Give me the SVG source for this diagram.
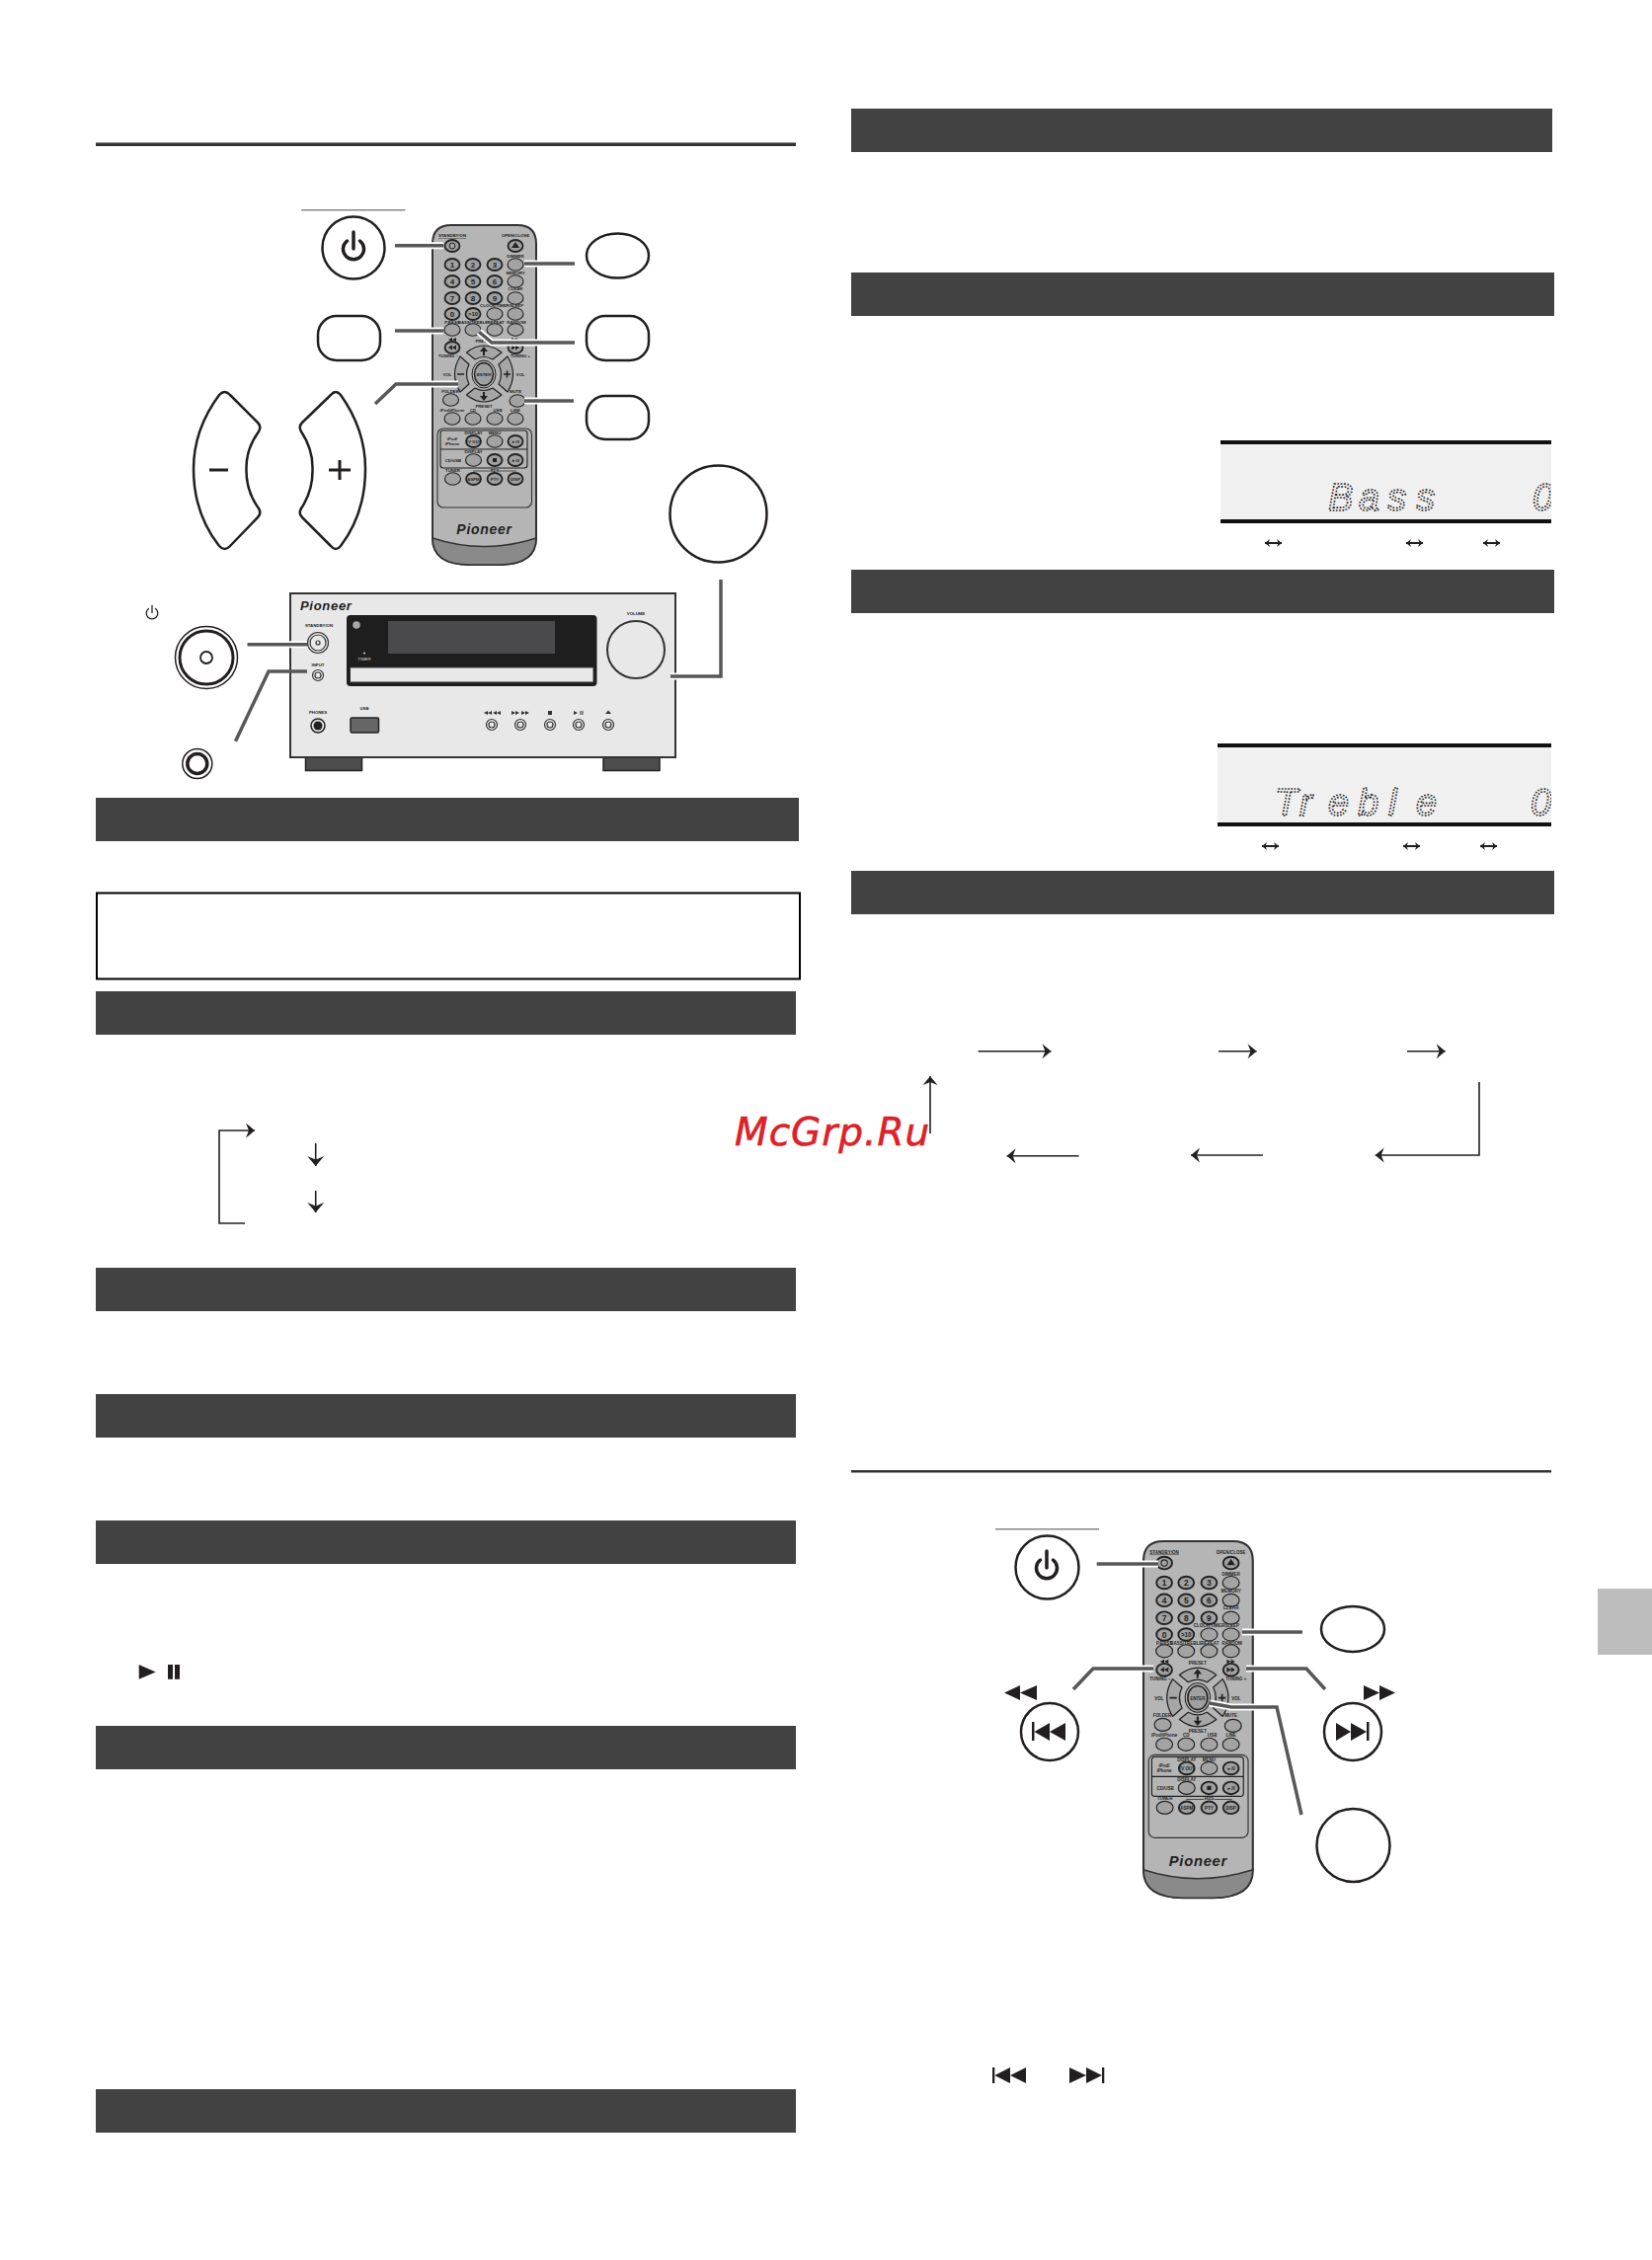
<svg xmlns="http://www.w3.org/2000/svg" xmlns:xlink="http://www.w3.org/1999/xlink" width="1673" height="2289" viewBox="0 0 1673 2289">
<style>
text{font-family:"Liberation Sans",Arial,sans-serif}
.bar{fill:#424242}
.l{font-size:4.3px;font-weight:700;fill:#222;text-anchor:middle}
.n{font-size:8px;font-weight:700;fill:#222;text-anchor:middle}
.b{fill:#a3a3a3;stroke:#222;stroke-width:1.1}
.bi{fill:#a0a0a0;stroke:#222;stroke-width:1.8}
.pad{fill:#a6a6a6;stroke:#222;stroke-width:1.2;stroke-linejoin:round}
.logo{font-weight:700;font-style:italic;fill:#222}
.call{fill:#fff;stroke:#231f20;stroke-width:2.5}
.shape{fill:#fff;stroke:#231f20;stroke-width:2.5;stroke-linejoin:round}
.icon{fill:none;stroke:#231f20;stroke-width:3.5;stroke-linecap:round}
.halo{fill:none;stroke:#fff;stroke-width:7;stroke-linejoin:miter}
.lead{fill:none;stroke:#58585a;stroke-width:3.5;stroke-linejoin:miter}
.arr{fill:none;stroke:#231f20;stroke-width:1.6;marker-end:url(#barb)}
.dn{fill:none;stroke:#231f20;stroke-width:1.6;marker-end:url(#barb2)}
.dbl{fill:none;stroke:#231f20;stroke-width:2;marker-end:url(#tip);marker-start:url(#tip)}
.tri{fill:#231f20}
.band{fill:#111}
.lcd{font-style:italic;font-size:38px;fill:none;stroke:#222;stroke-width:1.6;stroke-dasharray:1.6 1.6}
.ub{fill:#e8e8e8;stroke:#333;stroke-width:1.2}
.ui{fill:#777;stroke:#333;stroke-width:1.2}
</style>
<defs>
<marker id="barb" markerUnits="userSpaceOnUse" markerWidth="24" markerHeight="24" refX="12" refY="12" orient="auto" viewBox="0 0 24 24"><path d="M3,4.500 L12,12 L3,19.500 L6,12 Z" fill="#231f20"/></marker>
<marker id="barb2" markerUnits="userSpaceOnUse" markerWidth="24" markerHeight="24" refX="12" refY="12" orient="auto" viewBox="0 0 24 24"><path d="M2,3.500 L12,12 L2,20.500 L5.500,12 Z" fill="#231f20"/></marker>
<marker id="tip" markerUnits="userSpaceOnUse" markerWidth="12" markerHeight="12" refX="6" refY="6" orient="auto-start-reverse" viewBox="0 0 12 12"><path d="M1,2 L6,6 L1,10 L2.500,6 Z" fill="#231f20"/></marker>
<ellipse id="b" class="b" rx="8" ry="6.200"/>
<ellipse id="bi" class="bi" rx="7.500" ry="6"/>
<g id="remote">
<path d="M457,228 H524 Q543,228 543,247 V545 Q543,572 505,572 H476 Q438,572 438,545 V247 Q438,228 457,228 Z" fill="#b5b5b5" stroke="#333" stroke-width="2"/>
<path d="M438,545 Q490,562 543,545 Q543,572 505,572 H476 Q438,572 438,545 Z" fill="#8a8a8a" stroke="#333" stroke-width="1.500"/>
<text class="l" x="458" y="240" text-decoration="underline">STANDBY/ON</text>
<text class="l" x="522" y="240">OPEN/CLOSE</text>
<use xlink:href="#bi" href="#bi" x="458" y="249"/><circle cx="458" cy="249" r="3" fill="none" stroke="#222"/>
<use xlink:href="#bi" href="#bi" x="522" y="249"/><polygon points="518,251 522,245 526,251" fill="#222"/>
<text class="l" x="522" y="261">DIMMER</text><use xlink:href="#b" href="#b" x="522" y="268"/>
<use xlink:href="#bi" href="#bi" x="458" y="268"/><use xlink:href="#bi" href="#bi" x="479" y="268"/><use xlink:href="#bi" href="#bi" x="501" y="268"/>
<text class="n" x="458" y="271">1</text><text class="n" x="479" y="271">2</text><text class="n" x="501" y="271">3</text>
<text class="l" x="522" y="278">MEMORY</text><use xlink:href="#b" href="#b" x="522" y="285"/>
<use xlink:href="#bi" href="#bi" x="458" y="285"/><use xlink:href="#bi" href="#bi" x="479" y="285"/><use xlink:href="#bi" href="#bi" x="501" y="285"/>
<text class="n" x="458" y="288">4</text><text class="n" x="479" y="288">5</text><text class="n" x="501" y="288">6</text>
<text class="l" x="522" y="294">CLEAR</text><use xlink:href="#b" href="#b" x="522" y="302"/>
<use xlink:href="#bi" href="#bi" x="458" y="302"/><use xlink:href="#bi" href="#bi" x="479" y="302"/><use xlink:href="#bi" href="#bi" x="501" y="302"/>
<text class="n" x="458" y="305">7</text><text class="n" x="479" y="305">8</text><text class="n" x="501" y="305">9</text>
<text class="l" x="501" y="311">CLOCK/TIMER</text><text class="l" x="523" y="311">SLEEP</text>
<use xlink:href="#bi" href="#bi" x="458" y="318"/><use xlink:href="#bi" href="#bi" x="479" y="318"/><use xlink:href="#b" href="#b" x="501" y="318"/><use xlink:href="#b" href="#b" x="522" y="318"/>
<text class="n" x="458" y="321">0</text><text class="l" x="479" y="320" style="font-size:6px">&gt;10</text>
<text class="l" x="458" y="328">P.BASS</text><text class="l" x="479" y="328">BASS/TREBLE</text><text class="l" x="502" y="328">REPEAT</text><text class="l" x="523" y="328">RANDOM</text>
<use xlink:href="#b" href="#b" x="458" y="334"/><use xlink:href="#b" href="#b" x="479" y="334"/><use xlink:href="#b" href="#b" x="501" y="334"/><use xlink:href="#b" href="#b" x="522" y="334"/>
<use xlink:href="#bi" href="#bi" x="458" y="352"/><use xlink:href="#bi" href="#bi" x="522" y="352"/>
<path d="M454,352 L458,349.500 V354.500 Z M458,352 L462,349.500 V354.500 Z M518,349.500 V354.500 L522,352 Z M522,349.500 V354.500 L526,352 Z" fill="#222"/>
<path d="M454,344 L458,342 V346 Z M458,344 L462,342 V346 Z M518,342 V346 L522,344 Z M522,342 V346 L526,344 Z" fill="#222"/>
<text class="l" x="490" y="347">PRESET</text>
<text class="l" x="454" y="362">TUNING –</text><text class="l" x="527" y="362">TUNING +</text>
<path class="pad" d="M472.500,357 Q490,343 508,357 L499,364 Q490,359 481,364 Z"/>
<path class="pad" d="M472.500,400 Q490,414 508,400 L499,393 Q490,398 481,393 Z"/>
<path class="pad" d="M466,361 Q455,379 466,397 L475,389 Q470,379 475,369 Z"/>
<path class="pad" d="M514,361 Q525,379 514,397 L505,389 Q510,379 505,369 Z"/>
<path d="M490,351 L486,356 H489 V360 H491 V356 H494 Z M490,406 L486,401 H489 V397 H491 V401 H494 Z" fill="#222"/>
<path d="M463,379 H470 M510,379 H517 M513.500,375.500 V382.500" stroke="#222" stroke-width="1.600" fill="none"/>
<ellipse cx="490" cy="379" rx="12" ry="14" fill="#b5b5b5" stroke="#222" stroke-width="1"/>
<ellipse cx="490" cy="379" rx="9.500" ry="11.500" fill="#a0a0a0" stroke="#222" stroke-width="1.500"/>
<text class="l" x="490" y="381">ENTER</text>
<text class="l" x="453" y="381">VOL</text><text class="l" x="527" y="381">VOL</text>
<text class="l" x="456" y="398">FOLDER</text><text class="l" x="522" y="398">MUTE</text>
<use xlink:href="#b" href="#b" x="456.500" y="405"/><use xlink:href="#b" href="#b" x="524" y="406"/>
<text class="l" x="490" y="413">PRESET</text>
<text class="l" x="458" y="417">iPod/iPhone</text><text class="l" x="479" y="417">CD</text><text class="l" x="504" y="417">USB</text><text class="l" x="522" y="417">LINE</text>
<use xlink:href="#b" href="#b" x="458" y="424"/><use xlink:href="#b" href="#b" x="479" y="424"/><use xlink:href="#b" href="#b" x="501" y="424"/><use xlink:href="#b" href="#b" x="522" y="424"/>
<rect x="443" y="434" width="95.500" height="80" rx="6" fill="#b5b5b5" stroke="#333" stroke-width="1.100"/>
<rect x="446" y="436" width="88" height="38" rx="3" fill="none" stroke="#222" stroke-width="1.100"/>
<path d="M446,455 H534" stroke="#222" stroke-width="1.100"/>
<text class="l" x="479.500" y="440">DISPLAY</text><text class="l" x="501" y="440">MENU</text>
<text class="l" x="458" y="446">iPod/</text><text class="l" x="458" y="451">iPhone</text>
<use xlink:href="#bi" href="#bi" x="479.500" y="447"/><use xlink:href="#b" href="#b" x="501" y="447"/><use xlink:href="#bi" href="#bi" x="522" y="447"/>
<text class="l" x="479.500" y="449">TV OUT</text><text class="l" x="522" y="449">►/II</text>
<text class="l" x="479.500" y="459">DISPLAY</text>
<text class="l" x="459" y="468">CD/USB</text>
<use xlink:href="#b" href="#b" x="479.500" y="466"/><use xlink:href="#bi" href="#bi" x="501" y="466"/><use xlink:href="#bi" href="#bi" x="522" y="466"/>
<rect x="499" y="464" width="4" height="4" fill="#222"/><text class="l" x="522" y="468">►/II</text>
<text class="l" x="458.500" y="478">TUNER</text><text class="l" x="501" y="478">RDS</text>
<path d="M479,477 H496 M506,477 H523" stroke="#222" stroke-width=".7"/>
<use xlink:href="#b" href="#b" x="458.500" y="485"/><use xlink:href="#bi" href="#bi" x="479.500" y="485"/><use xlink:href="#bi" href="#bi" x="501" y="485"/><use xlink:href="#bi" href="#bi" x="522" y="485"/>
<text class="l" x="479.500" y="487">ASPM</text><text class="l" x="501" y="487">PTY</text><text class="l" x="522" y="487">DISP</text>
<text class="logo" x="490.500" y="541" text-anchor="middle" style="font-size:14px;letter-spacing:.7px">Pioneer</text>
</g>
<g id="pw"><path d="M-6.500,-8 A10.500,10.500 0 1 0 6.500,-8 M0,-17 V0" class="icon"/></g>
</defs>
<rect width="1673" height="2289" fill="#fff"/>

<g id="section-bars">
<rect class="bar" x="97" y="808" width="712" height="44"/>
<rect class="bar" x="97" y="1004" width="709" height="44"/>
<rect class="bar" x="97" y="1284" width="709" height="44"/>
<rect class="bar" x="97" y="1412" width="709" height="44"/>
<rect class="bar" x="97" y="1540" width="709" height="44"/>
<rect class="bar" x="97" y="1748" width="709" height="44"/>
<rect class="bar" x="97" y="2116" width="709" height="44"/>
<rect class="bar" x="862" y="110" width="710" height="44"/>
<rect class="bar" x="862" y="276" width="712" height="44"/>
<rect class="bar" x="862" y="577" width="712" height="44"/>
<rect class="bar" x="862" y="882" width="712" height="44"/>
</g>
<g id="rules">
<rect x="97" y="144.500" width="709" height="3.500" fill="#333"/>
<rect x="862" y="1489" width="709" height="2.500" fill="#333"/>
<rect x="305" y="212" width="105.500" height="1.500" fill="#888"/>
<rect x="1008" y="1548" width="105" height="1.500" fill="#888"/>
</g>
<rect id="note-box" x="98" y="904.500" width="712" height="87" fill="#fff" stroke="#000" stroke-width="2"/>
<rect id="page-tab" x="1618" y="1609" width="55" height="67" fill="#bdbdbd"/>

<g id="remote-1"><use xlink:href="#remote" href="#remote"/></g>
<g id="remote-2"><use xlink:href="#remote" href="#remote" transform="translate(1158 1561) scale(1.055 1.05) translate(-438 -228)"/></g>

<g id="unit">
<rect x="309.500" y="765" width="57" height="15.500" fill="#4d4d4d" stroke="#222" stroke-width="1.500"/>
<rect x="611" y="765" width="57" height="15.500" fill="#4d4d4d" stroke="#222" stroke-width="1.500"/>
<rect x="294" y="601" width="390" height="166" fill="#e8e8e8" stroke="#333" stroke-width="2"/>
<text class="logo" x="304" y="618" style="font-size:13px;letter-spacing:.7px">Pioneer</text>
<rect x="351" y="623" width="253.500" height="72" rx="4" fill="#1e1e1e"/>
<rect x="393" y="629" width="169" height="33" fill="#4a4a4c"/>
<rect x="354.500" y="676" width="246.500" height="15" fill="#e8e8e8" stroke="#333" stroke-width="1"/>
<circle cx="361" cy="633" r="3.800" fill="#a8a8a8"/>
<circle cx="369" cy="661.500" r="1" fill="#ddd"/>
<text class="l" x="369" y="669" style="fill:#ddd;font-weight:400">TIMER</text>
<text class="l" x="323" y="635">STANDBY/ON</text>
<circle cx="322" cy="651" r="10.500" class="ub"/><circle cx="322" cy="651" r="8" class="ub"/><circle cx="322" cy="651" r="2" class="ub"/>
<text class="l" x="322" y="675">INPUT</text>
<circle cx="322" cy="684" r="5.500" class="ub"/><circle cx="322" cy="684" r="3" class="ub"/>
<text class="l" x="322" y="723">PHONES</text>
<circle cx="322" cy="735" r="7" fill="#e8e8e8" stroke="#222" stroke-width="1.500"/><circle cx="322" cy="735" r="4.500" fill="#222"/>
<text class="l" x="369" y="719">USB</text>
<rect x="355" y="727" width="28.500" height="15" rx="1.500" fill="#666" stroke="#222" stroke-width="1.500"/>
<g id="unit-keys">
<circle cx="498" cy="734" r="5.500" class="ub"/><circle cx="498" cy="734" r="3" class="ub"/>
<circle cx="527" cy="734" r="5.500" class="ub"/><circle cx="527" cy="734" r="3" class="ub"/>
<circle cx="557" cy="734" r="5.500" class="ub"/><circle cx="557" cy="734" r="3" class="ub"/>
<circle cx="586" cy="734" r="5.500" class="ub"/><circle cx="586" cy="734" r="3" class="ub"/>
<circle cx="616" cy="734" r="5.500" class="ub"/><circle cx="616" cy="734" r="3" class="ub"/>
<path d="M490,722 L494,720 V724 Z M494,722 L498,720 V724 Z M499,722 L503,720 V724 Z M503,722 L507,720 V724 Z M518,720 V724 L522,722 Z M522,720 V724 L526,722 Z M528,720 V724 L532,722 Z M532,720 V724 L536,722 Z" fill="#333"/>
<rect x="555" y="720" width="4" height="4" fill="#333"/>
<path d="M581,720 V724 L585,722 Z" fill="#333"/><path d="M588,720 V724 M590,720 V724" stroke="#333"/>
<path d="M613,723 L616,719.500 L619,723 Z" fill="#333"/>
</g>
<text class="l" x="644" y="623">VOLUME</text>
<circle cx="644" cy="658" r="29" fill="#e8e8e8" stroke="#333" stroke-width="2"/>
</g>

<g id="callouts">
<g id="c-power-1"><circle class="call" cx="358" cy="251" r="31.500"/><use xlink:href="#pw" href="#pw" x="358" y="252"/></g>
<g id="c-pbass"><rect class="call" x="322" y="320" width="63" height="45" rx="19"/></g>
<g id="c-dimmer"><ellipse class="call" cx="625.500" cy="259" rx="31.500" ry="22.500"/></g>
<g id="c-bass"><rect class="call" x="594" y="320" width="63" height="45" rx="19"/></g>
<g id="c-mute"><rect class="call" x="594" y="401" width="63" height="44" rx="19"/></g>
<g id="c-vol-minus"><path class="shape" d="M222,400 Q227.500,394 233,400 L261,428 Q265,432 262,437 Q249,455 249.500,475 Q249,497 262,515 Q265,520 261,524 L233,553 Q227.500,559 222,553 Q196,520 196,475 Q196,435 222,400 Z"/><path d="M212,476 H231" stroke="#231f20" stroke-width="3"/></g>
<g id="c-vol-plus"><path class="shape" d="M345,400 Q340,394 335,400 L306,428 Q302,432 305,437 Q317,455 316.500,475 Q317,497 305,515 Q302,520 306,524 L335,553 Q340,559 345,553 Q370,520 370,475 Q370,435 345,400 Z"/><path d="M333,476 H355 M344,466 V486" stroke="#231f20" stroke-width="3" fill="none"/></g>
<g id="c-volume"><circle class="call" cx="727.500" cy="520.500" r="49"/></g>
<g id="c-standby-unit">
<path class="icon" style="stroke-width:1.300" d="M150.500,616.500 A5.800,5.800 0 1 0 157.500,616.500 M154,613.500 V620.500"/>
<circle cx="209" cy="666" r="31.500" fill="#fff" stroke="#231f20" stroke-width="1.500"/><circle cx="209" cy="666" r="27" fill="none" stroke="#231f20" stroke-width="3"/><circle cx="209" cy="666" r="6" fill="#fff" stroke="#231f20" stroke-width="1.800"/>
</g>
<g id="c-input"><circle cx="199.800" cy="773.500" r="15" fill="#fff" stroke="#231f20" stroke-width="1.500"/><circle cx="199.800" cy="773.500" r="10" fill="#fff" stroke="#231f20" stroke-width="3.500"/></g>
<g id="c-power-2"><circle class="call" cx="1060.500" cy="1587.500" r="32"/><use xlink:href="#pw" href="#pw" x="1060" y="1588"/></g>
<g id="c-sleep"><ellipse class="call" cx="1370" cy="1650" rx="32" ry="23"/></g>
<g id="c-enter"><circle class="call" cx="1370.500" cy="1869" r="37"/></g>
<g id="c-prev"><circle class="call" cx="1063" cy="1754" r="29"/>
<path class="tri" d="M1045,1744 H1047.500 V1763 H1045 Z M1047.500,1754 L1063,1745 V1763 Z M1063,1754 L1079,1745 V1763 Z"/>
<path class="tri" d="M1017,1714.500 L1033,1707 V1722 Z M1033,1714.500 L1050,1707 V1722 Z"/></g>
<g id="c-next"><circle class="call" cx="1370" cy="1754" r="29"/>
<path class="tri" d="M1353,1745 V1763 L1368,1754 Z M1368,1745 V1763 L1384,1754 Z M1384,1744 H1386.500 V1763 H1384 Z"/>
<path class="tri" d="M1381,1707 V1722 L1397,1714.500 Z M1397,1707 V1722 L1413,1714.500 Z"/></g>
</g>

<g id="inline-icons">
<path class="tri" d="M140.700,1686 V1700.700 L157.700,1693.500 Z M170,1686 H175 V1700.700 H170 Z M177,1686 H182 V1700.700 H177 Z"/>
<path class="tri" d="M1005,2094 H1007.300 V2110 H1005 Z M1007.300,2102 L1023,2094 V2110 Z M1023,2102 L1039,2094 V2110 Z"/>
<path class="tri" d="M1083,2094 V2110 L1100,2102 Z M1100,2094 V2110 L1116,2102 Z M1116,2094 H1118.300 V2110 H1116 Z"/>
</g>

<g id="display-bass">
<rect x="1236" y="448" width="335" height="80" fill="#f0f0f0"/>
<clipPath id="clip-bass"><rect x="1236" y="450" width="335" height="76"/></clipPath>
<g clip-path="url(#clip-bass)"><text class="lcd" x="1345 1376 1405 1434" y="517">Bass</text><text class="lcd" x="1552" y="517">0</text></g>
<rect class="band" x="1236" y="446" width="335" height="4"/><rect class="band" x="1236" y="526" width="335" height="4"/>
</g>
<g id="display-treble">
<rect x="1233" y="755" width="338" height="80" fill="#f0f0f0"/>
<clipPath id="clip-treble"><rect x="1233" y="757" width="338" height="76"/></clipPath>
<g clip-path="url(#clip-treble)"><text class="lcd" x="1291 1316 1345 1375 1406 1434" y="826">Treble</text><text class="lcd" x="1550" y="826">0</text></g>
<rect class="band" x="1233" y="753" width="338" height="4"/><rect class="band" x="1233" y="833" width="338" height="4"/>
</g>

<text id="watermark" x="744" y="1160" style="font-family:'DejaVu Sans',sans-serif;font-style:italic;font-size:39px;letter-spacing:1px;fill:#dc2228;stroke:#dc2228;stroke-width:.6px">McGrp.Ru</text>

<g id="connectors">
<path class="halo" d="M400,248.700 H449"/><path class="lead" d="M400,248.700 H449"/>
<path class="halo" d="M400,335 H449"/><path class="lead" d="M400,335 H449"/>
<path class="halo" d="M531,267 H582"/><path class="lead" d="M531,267 H582"/>
<path class="halo" d="M485,336 L498,347 H582"/><path class="lead" d="M485,336 L498,347 H582"/>
<path class="halo" d="M531,406 H581"/><path class="lead" d="M531,406 H581"/>
<path class="halo" d="M464,389 H401 L380,409"/><path class="lead" d="M464,389 H401 L380,409"/>
<path class="halo" d="M250.500,652.700 H311"/><path class="lead" d="M250.500,652.700 H311"/>
<path class="lead" d="M311,680 H272 L238.500,750.700"/>
<path class="halo" d="M730,587 V685 H679"/><path class="lead" d="M730,587 V685 H679"/>
<path class="halo" d="M1110.700,1584 H1173"/><path class="lead" d="M1110.700,1584 H1173"/>
<path class="halo" d="M1258,1653 H1319"/><path class="lead" d="M1258,1653 H1319"/>
<path class="halo" d="M1168,1690 H1107 L1087,1711"/><path class="lead" d="M1168,1690 H1107 L1087,1711"/>
<path class="halo" d="M1262,1690 H1323 L1342,1711"/><path class="lead" d="M1262,1690 H1323 L1342,1711"/>
<path class="halo" d="M1225,1725 L1247,1729 H1293 L1318,1838"/><path class="lead" d="M1225,1725 L1247,1729 H1293 L1318,1838"/>
<path class="arr" d="M990.600,1064.700 H1064.500"/>
<path class="arr" d="M1234,1064.700 H1272.600"/>
<path class="arr" d="M1425,1064.700 H1463.700"/>
<path class="arr" d="M942,1148 V1090"/>
<path class="arr" d="M1498,1096 V1170 H1392.700"/>
<path class="arr" d="M1279,1170 H1206"/>
<path class="arr" d="M1092.600,1170.700 H1019.600"/>
<path class="arr" d="M248,1239 H222 V1145 H258"/>
<path class="dn" d="M319.700,1158 V1181"/>
<path class="dn" d="M319.700,1206 V1228"/>
<path class="dbl" d="M1281,550 H1298"/>
<path class="dbl" d="M1424,550 H1441"/>
<path class="dbl" d="M1502,550 H1519"/>
<path class="dbl" d="M1278,857 H1295"/>
<path class="dbl" d="M1421,857 H1438"/>
<path class="dbl" d="M1499,857 H1516"/>
</g>
</svg>
